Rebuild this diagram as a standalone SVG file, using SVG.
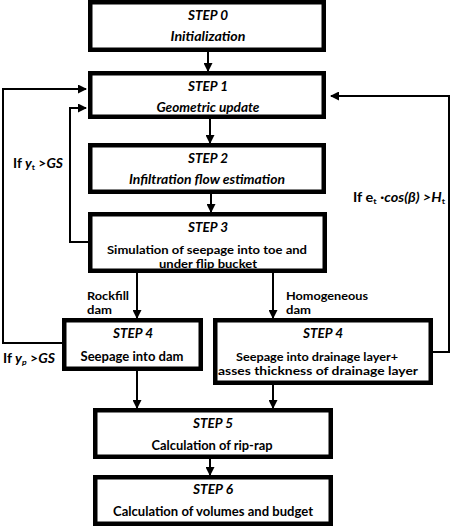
<svg xmlns="http://www.w3.org/2000/svg" width="452" height="526" viewBox="0 0 452 526">
<defs>
<marker id="ah" markerUnits="userSpaceOnUse" markerWidth="9" markerHeight="9" refX="8" refY="4.5" orient="auto">
<path d="M0,0 L9,4.5 L0,9 z" fill="#000"/>
</marker>
<style>
.box{fill:#fff;stroke:#000;stroke-width:4.5}
.c{fill:none;stroke:#000;stroke-width:2;marker-end:url(#ah)}
text{font-family:Lato,"Open Sans","Liberation Sans",sans-serif;font-weight:bold;font-size:13px;fill:#000}
.l{font-size:12px}
.t{text-anchor:middle}
.s{font-style:italic}
</style>
</defs>
<rect width="452" height="526" fill="#fff"/>
<g id="connectors">
<line class="c" x1="208" y1="52" x2="208" y2="71"/>
<line class="c" x1="210" y1="119" x2="210" y2="143"/>
<line class="c" x1="211" y1="194" x2="211" y2="212"/>
<line class="c" x1="137" y1="273" x2="137" y2="318"/>
<line class="c" x1="273" y1="273" x2="273" y2="318"/>
<line class="c" x1="137" y1="371" x2="137" y2="408"/>
<line class="c" x1="273" y1="385" x2="273" y2="408"/>
<line class="c" x1="210" y1="459" x2="210" y2="475"/>
<polyline class="c" points="62,343 3,343 3,89 86,89"/>
<polyline class="c" points="88,242 70,242 70,108 86,108"/>
<polyline class="c" points="433,352 449,352 449,96 331,96"/>
<text x="13" y="168" textLength="50" lengthAdjust="spacingAndGlyphs">If <tspan class="s">y</tspan><tspan font-size="8" dy="2">t</tspan><tspan dy="-2"> &gt;</tspan><tspan class="s">GS</tspan></text>
<text x="3" y="363" textLength="52" lengthAdjust="spacingAndGlyphs">If <tspan class="s">y</tspan><tspan class="s" font-size="8" dy="2">p</tspan><tspan dy="-2"> &gt;</tspan><tspan class="s">GS</tspan></text>
<text x="353" y="202" textLength="92" lengthAdjust="spacingAndGlyphs">If e<tspan font-size="8" dy="2">t</tspan><tspan dy="-2"> ·</tspan><tspan class="s">cos(β) &gt;H</tspan><tspan font-size="8" dy="2">t</tspan></text>
<text class="l" x="87" y="300" textLength="42" lengthAdjust="spacingAndGlyphs">Rockfill</text>
<text class="l" x="87" y="314" textLength="25" lengthAdjust="spacingAndGlyphs">dam</text>
<text class="l" x="286" y="300" textLength="82" lengthAdjust="spacingAndGlyphs">Homogeneous</text>
<text class="l" x="286" y="314" textLength="25" lengthAdjust="spacingAndGlyphs">dam</text>
</g>
<g id="step0">
<rect class="box" x="90.25" y="2.25" width="233.5" height="47.5"/>
<text class="t s" x="208" y="20" textLength="40" lengthAdjust="spacingAndGlyphs">STEP 0</text>
<text class="t s" x="208" y="41" textLength="75" lengthAdjust="spacingAndGlyphs">Initialization</text>
</g>
<g id="step1">
<rect class="box" x="90.25" y="73.25" width="233.5" height="43.5"/>
<text class="t s" x="208" y="91" textLength="40" lengthAdjust="spacingAndGlyphs">STEP 1</text>
<text class="t s" x="208" y="112" textLength="103" lengthAdjust="spacingAndGlyphs">Geometric update</text>
</g>
<g id="step2">
<rect class="box" x="90.25" y="145.25" width="233.5" height="46.5"/>
<text class="t s" x="208" y="163" textLength="40" lengthAdjust="spacingAndGlyphs">STEP 2</text>
<text class="t s" x="207" y="184" textLength="156" lengthAdjust="spacingAndGlyphs">Infiltration flow estimation</text>
</g>
<g id="step3">
<rect class="box" x="90.25" y="214.25" width="234.5" height="56.5"/>
<text class="t s" x="208" y="232" textLength="40" lengthAdjust="spacingAndGlyphs">STEP 3</text>
<text class="t l" x="207" y="254" textLength="200" lengthAdjust="spacingAndGlyphs">Simulation of seepage into toe and</text>
<text class="t l" x="208" y="268" textLength="98" lengthAdjust="spacingAndGlyphs">under flip bucket</text>
</g>
<g id="step4a">
<rect class="box" x="64.25" y="320.25" width="136.5" height="48.5"/>
<text class="t s" x="133" y="338" textLength="40" lengthAdjust="spacingAndGlyphs">STEP 4</text>
<text class="t" x="132" y="361" textLength="103" lengthAdjust="spacingAndGlyphs">Seepage into dam</text>
</g>
<g id="step4b">
<rect class="box" x="215.25" y="320.25" width="215.5" height="62.5"/>
<text class="t s" x="323" y="338" textLength="40" lengthAdjust="spacingAndGlyphs">STEP 4</text>
<text class="t l" x="317" y="361" textLength="162" lengthAdjust="spacingAndGlyphs">Seepage into drainage layer+</text>
<text class="t l" x="318" y="375" textLength="200" lengthAdjust="spacingAndGlyphs">asses thickness of drainage layer</text>
</g>
<g id="step5">
<rect class="box" x="95.25" y="410.25" width="235.5" height="46.5"/>
<text class="t s" x="213" y="428" textLength="40" lengthAdjust="spacingAndGlyphs">STEP 5</text>
<text class="t" x="212" y="450" textLength="121" lengthAdjust="spacingAndGlyphs">Calculation of rip-rap</text>
</g>
<g id="step6">
<rect class="box" x="95.25" y="477.25" width="235.5" height="46.5"/>
<text class="t s" x="213" y="494" textLength="40" lengthAdjust="spacingAndGlyphs">STEP 6</text>
<text class="t" x="213" y="516" textLength="200" lengthAdjust="spacingAndGlyphs">Calculation of volumes and budget</text>
</g>
</svg>
